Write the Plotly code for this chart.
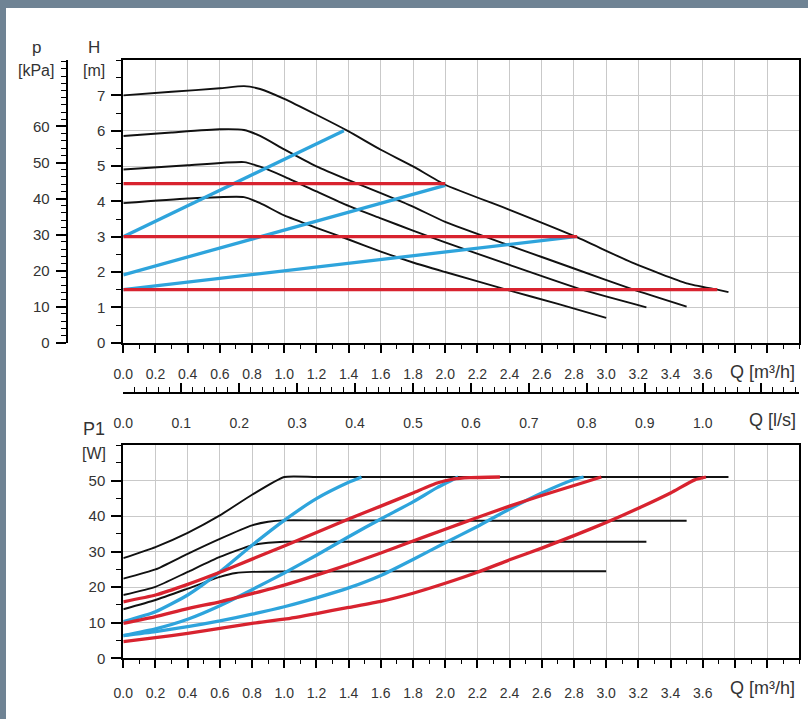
import plotly.graph_objects as go

W, H = 808, 719

# ---------------- DATA ----------------
# Upper chart: head H [m] versus flow Q [m3/h] – maximum speed curves
max1_q = [0, 0.3, 0.6, 0.75, 0.85, 1.0, 1.2, 1.4, 1.6, 1.8, 2.0, 2.4, 2.8, 3.17, 3.5, 3.69, 3.76]
max1_h = [7.0, 7.1, 7.2, 7.26, 7.18, 6.9, 6.45, 5.98, 5.46, 4.99, 4.47, 3.76, 3.02, 2.25, 1.68, 1.5, 1.43]
max2_q = [0, 0.3, 0.6, 0.75, 0.85, 1.0, 1.2, 1.4, 1.6, 1.8, 2.0, 2.4, 2.8, 3.17, 3.5]
max2_h = [5.85, 5.95, 6.04, 6.02, 5.85, 5.47, 4.99, 4.6, 4.23, 3.85, 3.42, 2.75, 2.1, 1.5, 1.02]
max3_q = [0, 0.4, 0.75, 0.85, 1.0, 1.2, 1.4, 1.6, 1.8, 2.0, 2.4, 2.85, 3.25]
max3_h = [4.9, 5.02, 5.11, 4.98, 4.7, 4.28, 3.87, 3.52, 3.17, 2.84, 2.2, 1.5, 1.0]
max4_q = [0, 0.4, 0.75, 0.85, 1.0, 1.2, 1.4, 1.6, 1.8, 2.0, 2.38, 2.7, 3.0]
max4_h = [3.95, 4.08, 4.12, 3.95, 3.6, 3.25, 2.92, 2.58, 2.27, 2.0, 1.5, 1.1, 0.7]

# constant-pressure settings (red): head and end flow
cp_h = [4.5, 3.0, 1.5]
cp_qend = [2.0, 2.82, 3.69]
# proportional-pressure settings (blue): start head, end flow, end head
pp_h0 = [3.0, 1.92, 1.5]
pp_qend = [1.37, 2.0, 2.81]
pp_hend = [6.0, 4.45, 3.0]

# Lower chart: power P1 [W] versus Q [m3/h]
pmax1_q = [0, 0.2, 0.4, 0.6, 0.8, 1.0, 1.2, 2.0, 3.76]
pmax1_p = [28.2, 31.3, 35.3, 40.2, 46.0, 51.0, 51.0, 51.0, 51.0]
pmax2_q = [0, 0.2, 0.4, 0.6, 0.8, 0.9, 1.0, 1.2, 2.0, 3.5]
pmax2_p = [22.4, 25.0, 29.4, 33.6, 37.4, 38.4, 38.8, 38.8, 38.7, 38.7]
pmax3_q = [0, 0.2, 0.4, 0.6, 0.8, 0.9, 1.0, 1.2, 2.0, 3.25]
pmax3_p = [17.8, 20.1, 24.3, 28.5, 31.8, 32.5, 32.8, 32.8, 32.8, 32.8]
pmax4_q = [0, 0.2, 0.4, 0.6, 0.7, 0.8, 1.0, 2.0, 3.0]
pmax4_p = [13.8, 16.4, 19.6, 22.9, 24.0, 24.3, 24.4, 24.5, 24.5]

pcp1_q = [0, 0.2, 0.4, 0.6, 0.8, 1.0, 1.2, 1.4, 1.6, 1.8, 1.95, 2.05, 2.15, 2.34]
pcp1_p = [15.9, 17.8, 20.8, 24.2, 27.9, 31.6, 35.4, 39.2, 42.8, 46.5, 49.3, 50.4, 50.8, 51.0]
pcp2_q = [0, 0.2, 0.4, 0.6, 0.8, 1.0, 1.2, 1.4, 1.6, 1.8, 2.0, 2.2, 2.4, 2.6, 2.8, 2.97]
pcp2_p = [9.8, 11.7, 14.0, 15.9, 18.2, 20.6, 23.4, 26.4, 29.6, 33.0, 36.3, 39.6, 42.8, 45.8, 48.6, 51.0]
pcp3_q = [0, 0.2, 0.4, 0.6, 0.8, 1.0, 1.2, 1.4, 1.6, 1.8, 2.0, 2.2, 2.4, 2.6, 2.8, 3.0, 3.2, 3.4, 3.55, 3.62]
pcp3_p = [4.7, 5.8, 7.0, 8.4, 9.8, 11.0, 12.6, 14.3, 16.0, 18.3, 21.1, 24.2, 27.7, 31.0, 34.5, 38.2, 42.2, 46.5, 50.2, 51.0]

ppp1_q = [0, 0.2, 0.4, 0.6, 0.8, 1.0, 1.2, 1.4, 1.48]
ppp1_p = [10.3, 13.1, 17.8, 24.3, 31.8, 38.8, 44.9, 49.5, 51.0]
ppp2_q = [0, 0.2, 0.4, 0.6, 0.8, 1.0, 1.2, 1.4, 1.6, 1.8, 1.95, 2.08]
ppp2_p = [6.4, 8.3, 11.0, 14.8, 19.3, 24.0, 29.0, 34.2, 39.2, 44.0, 48.0, 51.0]
ppp3_q = [0, 0.2, 0.4, 0.6, 0.8, 1.0, 1.2, 1.4, 1.6, 1.8, 2.0, 2.2, 2.4, 2.6, 2.8, 2.86]
ppp3_p = [6.4, 7.5, 8.9, 10.5, 12.4, 14.5, 17.0, 19.8, 23.3, 27.8, 32.5, 37.1, 42.0, 46.5, 50.3, 51.0]

# tick labels
q_ticks = [round(0.2 * i, 1) for i in range(21)]          # 0.0 .. 4.0
q_labels = [f"{v:.1f}" if v <= 3.6 else "" for v in q_ticks]
ls_ticks = [round(0.1 * i, 1) for i in range(12)]         # 0.0 .. 1.1
ls_labels = [f"{v:.1f}" if v <= 1.0 else "" for v in ls_ticks]
h_ticks = list(range(8))
p_ticks = list(range(0, 70, 10))
w_ticks = list(range(0, 60, 10))

# ---------------- STYLE / LAYOUT HELPERS ----------------
def px(x):
    return x / W

def py(y):
    return 1 - y / H

BLACK = "#111111"
RED = "#d8232f"
BLUE = "#2ea4dc"
GRID = "#c9c9c9"
TXT = "#333333"
FONT = "Liberation Sans, Arial, sans-serif"

fig = go.Figure()

def add(xs, ys, color, width, xa, ya, shape="spline"):
    fig.add_trace(go.Scatter(x=xs, y=ys, mode="lines", xaxis=xa, yaxis=ya,
                             line=dict(color=color, width=width, shape=shape, smoothing=0.5),
                             hoverinfo="skip", showlegend=False))

# upper chart
for q, h in [(max1_q, max1_h), (max2_q, max2_h), (max3_q, max3_h), (max4_q, max4_h)]:
    add(q, h, BLACK, 1.9, "x", "y")
for h0, qe, he in zip(pp_h0, pp_qend, pp_hend):
    add([0, qe], [h0, he], BLUE, 3.3, "x", "y", "linear")
for h, qe in zip(cp_h, cp_qend):
    add([0, qe], [h, h], RED, 3.3, "x", "y", "linear")

# lower chart
for q, p in [(pmax1_q, pmax1_p), (pmax2_q, pmax2_p), (pmax3_q, pmax3_p), (pmax4_q, pmax4_p)]:
    add(q, p, BLACK, 1.9, "x2", "y3")
for q, p in [(ppp1_q, ppp1_p), (ppp2_q, ppp2_p), (ppp3_q, ppp3_p)]:
    add(q, p, BLUE, 3.3, "x2", "y3")
for q, p in [(pcp1_q, pcp1_p), (pcp2_q, pcp2_p), (pcp3_q, pcp3_p)]:
    add(q, p, RED, 3.3, "x2", "y3")

# invisible traces that register the extra axes
fig.add_trace(go.Scatter(x=[0], y=[-100], xaxis="x", yaxis="y2", mode="markers",
                         marker=dict(opacity=0), hoverinfo="skip", showlegend=False))
fig.add_trace(go.Scatter(x=[0], y=[-100], xaxis="x3", yaxis="y", mode="markers",
                         marker=dict(opacity=0), hoverinfo="skip", showlegend=False))

tickfont = dict(family=FONT, size=14, color=TXT)
ytickfont = dict(family=FONT, size=15, color=TXT)
xdom = [px(123.3), px(799.3)]

def qaxis(anchor, standoff):
    return dict(domain=xdom, anchor=anchor, range=[0, 4.2],
                tickmode="array", tickvals=q_ticks, ticktext=q_labels,
                ticks="outside", ticklen=8, tickwidth=1.6, tickcolor="black",
                showline=True, linecolor="black", linewidth=2, mirror=True,
                showgrid=True, gridcolor=GRID, gridwidth=1, zeroline=False,
                minor=dict(tick0=0, dtick=0.1, ticks="outside", ticklen=4,
                           tickwidth=1.2, tickcolor="black", showgrid=False),
                tickfont=tickfont, ticklabelstandoff=standoff, fixedrange=True)

fig.update_layout(
    width=W, height=H,
    margin=dict(l=0, r=0, t=0, b=0, autoexpand=False),
    paper_bgcolor="white", plot_bgcolor="white",
    font=dict(family=FONT, color=TXT),
    xaxis=qaxis("y", 9),
    xaxis2=qaxis("y3", 13),
    xaxis3=dict(overlaying="x", anchor="free", position=py(393), side="bottom",
                range=[0, 4.2 / 3.6], tickmode="array", tickvals=ls_ticks, ticktext=ls_labels,
                ticks="inside", ticklen=9, tickwidth=1.6, tickcolor="black",
                showline=True, linecolor="black", linewidth=2, showgrid=False, zeroline=False,
                minor=dict(tick0=0, dtick=0.02, ticks="inside", ticklen=5,
                           tickwidth=1.2, tickcolor="black", showgrid=False),
                tickfont=tickfont, ticklabelstandoff=17),
    yaxis=dict(domain=[py(342.7), py(60)], anchor="x", range=[0, 8],
               tickmode="array", tickvals=h_ticks,
               ticks="outside", ticklen=10, tickwidth=1.6, tickcolor="black",
               showline=True, linecolor="black", linewidth=2, mirror=True,
               showgrid=True, gridcolor=GRID, gridwidth=1, zeroline=False,
               minor=dict(tick0=0, dtick=0.5, ticks="outside", ticklen=5,
                          tickwidth=1.2, tickcolor="black", showgrid=False),
               tickfont=ytickfont, ticklabelstandoff=3),
    yaxis2=dict(overlaying="y", anchor="free", position=px(66.7), side="left",
                range=[0, 8 * 9.80665], tickmode="array", tickvals=p_ticks,
                ticks="outside", ticklen=10, tickwidth=1.6, tickcolor="black",
                showline=True, linecolor="black", linewidth=2, showgrid=False, zeroline=False,
                minor=dict(tick0=0, dtick=2, ticks="outside", ticklen=5,
                           tickwidth=1.2, tickcolor="black", showgrid=False),
                tickfont=ytickfont, ticklabelstandoff=3),
    yaxis3=dict(domain=[py(658.3), py(445)], anchor="x2", range=[0, 60],
                tickmode="array", tickvals=w_ticks,
                ticks="outside", ticklen=10, tickwidth=1.6, tickcolor="black",
                showline=True, linecolor="black", linewidth=2, mirror=True,
                showgrid=True, gridcolor=GRID, gridwidth=1, zeroline=False,
                minor=dict(tick0=0, dtick=5, ticks="outside", ticklen=5,
                           tickwidth=1.2, tickcolor="black", showgrid=False),
                tickfont=ytickfont, ticklabelstandoff=3),
)

# frame (grey band at top and left of the picture)
FRAME = "#6f8394"
fig.add_shape(type="rect", xref="paper", yref="paper", x0=0, x1=1, y0=py(8), y1=1,
              fillcolor=FRAME, line=dict(width=0), layer="below")
fig.add_shape(type="rect", xref="paper", yref="paper", x0=0, x1=px(6), y0=0, y1=1,
              fillcolor=FRAME, line=dict(width=0), layer="below")

def label(text, x, y, size=15):
    fig.add_annotation(text=text, x=px(x), y=py(y), xref="paper", yref="paper",
                       showarrow=False, xanchor="center", yanchor="middle",
                       font=dict(family=FONT, size=size, color=TXT))

label("p", 36, 47, 17)
label("[kPa]", 36, 70, 16)
label("H", 94, 47, 17)
label("[m]", 94, 70, 16)
label("Q [m³/h]", 762, 372, 18)
label("Q [l/s]", 772, 420, 18)
label("P1", 94, 429, 18)
label("[W]", 94, 453, 16)
label("Q [m³/h]", 762, 688, 18)

post = ("document.body.style.margin='0';document.body.style.padding='0';"
        "document.body.style.overflow='hidden';"
        "var d=document.getElementsByClassName('plotly-graph-div')[0];"
        "d.style.position='absolute';d.style.left='0px';d.style.top='0px';")
fig.write_html("out.html", config={"displayModeBar": False, "responsive": False},
               post_script=post)
